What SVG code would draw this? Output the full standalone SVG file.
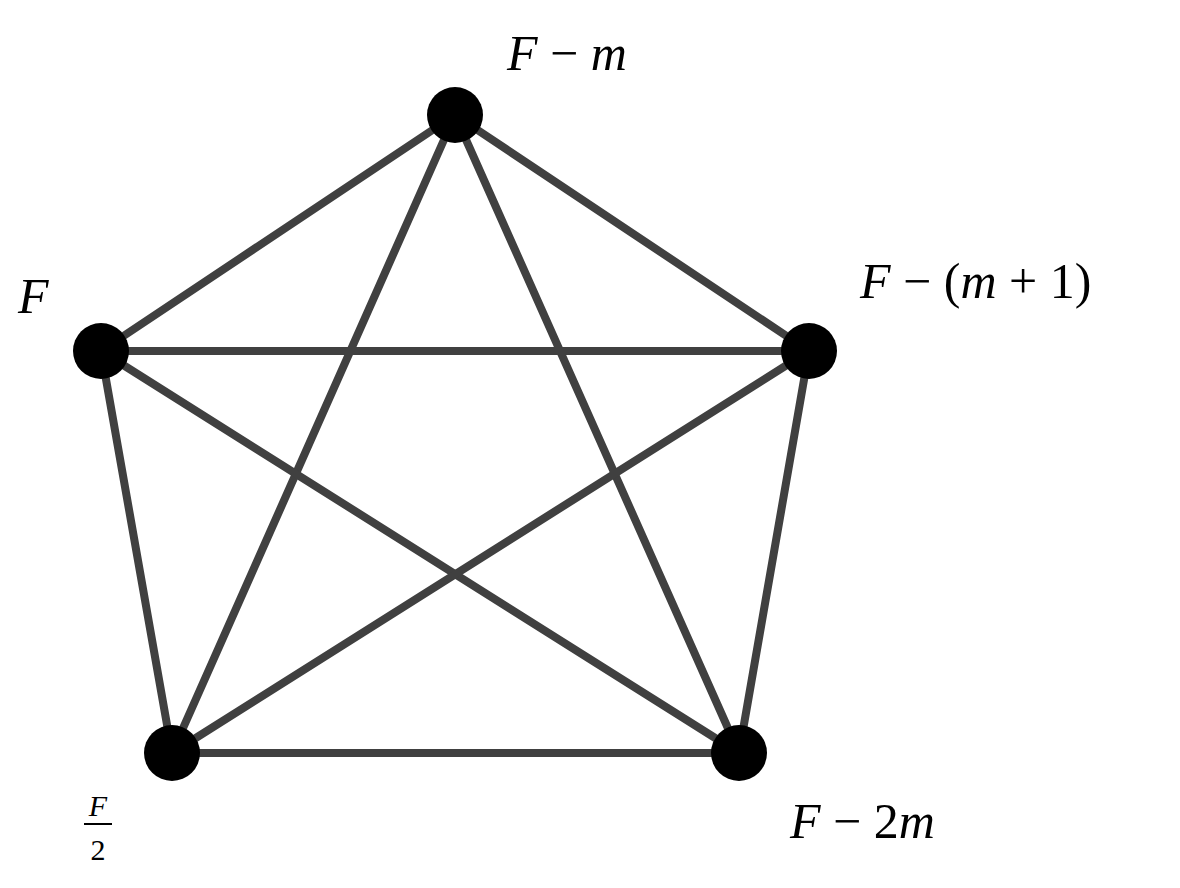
<svg xmlns="http://www.w3.org/2000/svg" width="1180" height="888" viewBox="0 0 1180 888">
<style>
.e{stroke:#404040;stroke-width:8;stroke-linecap:round}
.n{fill:#000}
text{font-family:"Liberation Serif","DejaVu Serif",serif;font-size:50px;fill:#000}
.i{font-style:italic}
.s{font-size:30px}
</style>
<rect width="1180" height="888" fill="#fff"/>
<g id="connectors">
<line class="e" x1="455" y1="115" x2="101" y2="351"/>
<line class="e" x1="455" y1="115" x2="809" y2="351"/>
<line class="e" x1="455" y1="115" x2="172" y2="753"/>
<line class="e" x1="455" y1="115" x2="739" y2="753"/>
<line class="e" x1="101" y1="351" x2="809" y2="351"/>
<line class="e" x1="101" y1="351" x2="172" y2="753"/>
<line class="e" x1="101" y1="351" x2="739" y2="753"/>
<line class="e" x1="809" y1="351" x2="172" y2="753"/>
<line class="e" x1="809" y1="351" x2="739" y2="753"/>
<line class="e" x1="172" y1="753" x2="739" y2="753"/>
</g>
<g id="n1"><circle class="n" cx="455" cy="115" r="28"/><text x="507" y="70"><tspan class="i">F</tspan> − <tspan class="i">m</tspan></text></g>
<g id="n2"><circle class="n" cx="101" cy="351" r="28"/><text x="18" y="313" class="i">F</text></g>
<g id="n3"><circle class="n" cx="809" cy="351" r="28"/><text x="860" y="298"><tspan class="i">F</tspan> − (<tspan class="i">m</tspan> + 1)</text></g>
<g id="n4"><circle class="n" cx="739" cy="753" r="28"/><text x="790" y="838"><tspan class="i">F</tspan> − 2<tspan class="i">m</tspan></text></g>
<g id="n5"><circle class="n" cx="172" cy="753" r="28"/>
<text x="98" y="816" class="i s" text-anchor="middle">F</text>
<line x1="84" y1="824" x2="112" y2="824" stroke="#000" stroke-width="2"/>
<text x="98" y="860" class="s" text-anchor="middle">2</text></g>
</svg>
